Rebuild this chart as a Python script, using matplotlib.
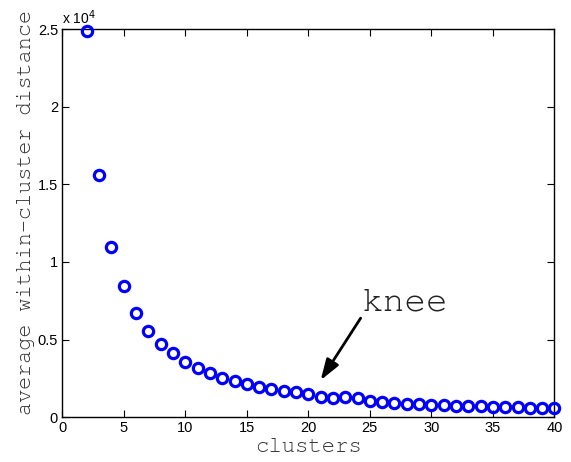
import matplotlib
matplotlib.use("Agg")
import matplotlib.pyplot as plt
from matplotlib.ticker import FuncFormatter

# average within-cluster distance for k = 2..40
clusters = list(range(2, 41))
avg_dist = [24900, 15610, 10950, 8420, 6720, 5520, 4730, 4130, 3560, 3170,
            2850, 2550, 2310, 2120, 1960, 1810, 1660, 1620, 1470, 1300,
            1230, 1290, 1230, 1020, 970, 930, 860, 820, 780, 770,
            730, 730, 690, 650, 650, 630, 600, 600, 580]

knee_tip = (21.0, 2380)
knee_tail = (24.25, 6380)
knee_label_xy = (24.3, 6850)

mono = ["FreeMono", "Courier Prime", "DejaVu Sans Mono"]
plt.rcParams["font.family"] = ["Liberation Sans", "DejaVu Sans"]

fig = plt.figure(figsize=(5.71, 4.62), dpi=100)
ax = fig.add_axes([0.109, 0.097, 0.862, 0.840])

ax.plot(clusters, avg_dist, linestyle="none", marker="o", markersize=7.4,
        markerfacecolor="none", markeredgecolor="#0000ff", markeredgewidth=2.3,
        clip_on=False, zorder=3)

ax.set_xlim(0, 40)
ax.set_ylim(0, 25000)
ax.set_xticks(range(0, 41, 5))
ax.set_yticks([0, 5000, 10000, 15000, 20000, 25000])
ax.yaxis.set_major_formatter(FuncFormatter(lambda v, p: f"{v / 1e4:g}"))
ax.tick_params(direction="in", length=5, width=0.8, top=True, right=True,
               labelsize=10.5, pad=3)
for s in ax.spines.values():
    s.set_linewidth(1.0)

ax.text(0.0, 1.005, r"x 10$^4$", transform=ax.transAxes, fontsize=10,
        ha="left", va="bottom")

ax.set_xlabel("clusters", fontfamily=mono, fontsize=16, color="#333333",
              labelpad=2)
ax.set_ylabel("average within-cluster distance", fontfamily=mono,
              fontsize=15.7, color="#333333", labelpad=2, y=0.527)

# knee label and arrow
ax.text(*knee_label_xy, "knee", fontfamily=mono, fontsize=26, color="#222222",
        ha="left", va="baseline")
ax.annotate("", xy=knee_tip, xytext=knee_tail,
            arrowprops=dict(arrowstyle="-|>,head_length=0.9,head_width=0.3",
                            color="black", lw=2, mutation_scale=14,
                            shrinkA=0, shrinkB=0))

fig.savefig("out.png", dpi=100)
